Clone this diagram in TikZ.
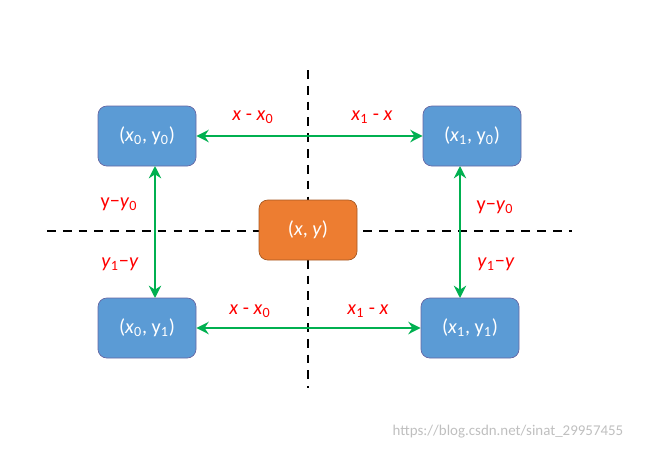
\documentclass[tikz,border=0pt]{standalone}
\usepackage{fontspec}
\setmainfont{Carlito}
\usetikzlibrary{arrows.meta}
\definecolor{bl}{HTML}{5B9BD5}\definecolor{or}{HTML}{ED7D31}\definecolor{gr}{HTML}{00B050}
\begin{document}
\begin{tikzpicture}[x=0.02cm,y=-0.02cm,
 box/.style={draw=blue!40!black!60, fill=bl, rounded corners=5pt, minimum width=98*0.02cm, minimum height=60*0.02cm, text=white, font=\fontsize{11.5}{13}\selectfont},
 arr/.style={draw=gr, line width=1.6pt, <->, >={Stealth[length=7pt,width=7pt]}},
 lab/.style={text=red, font=\fontsize{11.5}{13}\selectfont},
 dashline/.style={black, line width=1.3pt, dash pattern=on 5pt off 4pt}]
\useasboundingbox (0,0) rectangle (646,450);
\coordinate (vt) at (308,70); \coordinate (vb) at (308,388);
\coordinate (hl) at (47,231); \coordinate (hr) at (572,231);
\draw[dashline] (vt) -- (vb);
\draw[dashline] (hl) -- (hr);
\node[box] (a) at (147,136) {(\textit{x}\textsubscript{0}, y\textsubscript{0})};
\node[box] (b) at (472,136) {(\textit{x}\textsubscript{1}, y\textsubscript{0})};
\node[box] (c) at (147,328) {(\textit{x}\textsubscript{0}, y\textsubscript{1})};
\node[box] (d) at (470,328) {(\textit{x}\textsubscript{1}, y\textsubscript{1})};
\node[box, fill=or, draw=or!70!black] (m) at (308,230) {(\textit{x}, \textit{y})};
\coordinate (t1) at (155,166); \coordinate (t2) at (155,298);
\coordinate (r1) at (460,166); \coordinate (r2) at (460,298);
\draw[arr] (a.east) -- (b.west);
\draw[arr] (c.east) -- (d.west);
\draw[arr] (t1) -- (t2);
\draw[arr] (r1) -- (r2);
\node[lab] (l1) at (253,117) {\textit{x} - \textit{x}\textsubscript{0}};
\node[lab] (l2) at (372,117) {\textit{x}\textsubscript{1} - \textit{x}};
\node[lab] (l3) at (250,311) {\textit{x} - \textit{x}\textsubscript{0}};
\node[lab] (l4) at (368,311) {\textit{x}\textsubscript{1} - \textit{x}};
\node[lab] (l5) at (119,204) {y−\textit{y}\textsubscript{0}};
\node[lab] (l6) at (120,264) {\textit{y}\textsubscript{1}−\textit{y}};
\node[lab] (l7) at (495,207) {y−\textit{y}\textsubscript{0}};
\node[lab] (l8) at (496,264) {\textit{y}\textsubscript{1}−\textit{y}};
\node[text=black!25, font=\fontsize{8.5}{10}\selectfont] (w) at (508,432) {https://blog.csdn.net/sinat\_29957455};
\end{tikzpicture}
\end{document}
